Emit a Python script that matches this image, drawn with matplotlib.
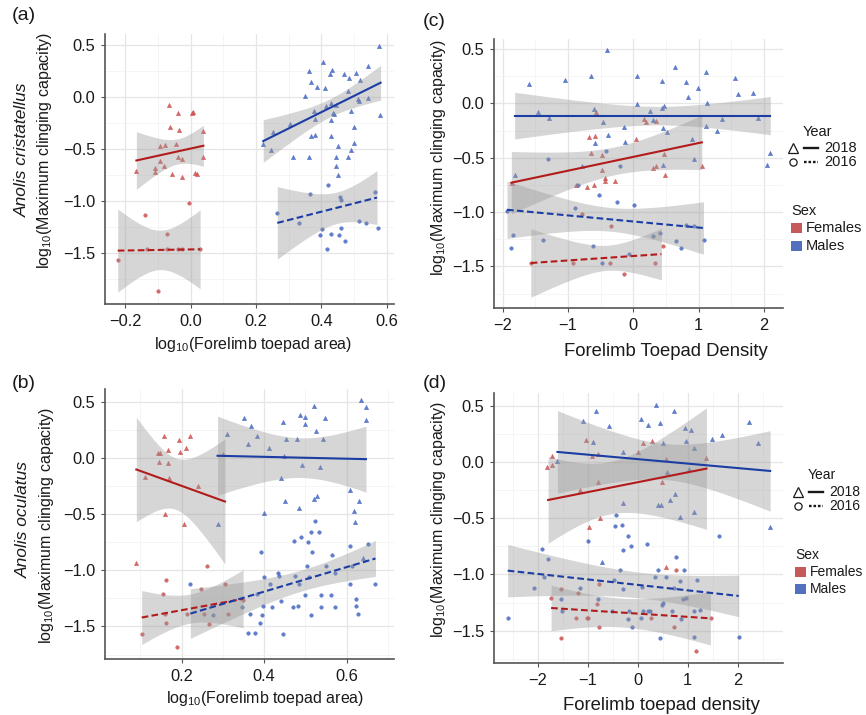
import numpy as np
import matplotlib
matplotlib.use('Agg')
import matplotlib.pyplot as plt
from matplotlib.lines import Line2D
from matplotlib.patches import Rectangle

plt.rcParams['font.family'] = ['Liberation Sans', 'DejaVu Sans']
plt.rcParams['mathtext.fontset'] = 'custom'
plt.rcParams['mathtext.rm'] = 'Liberation Sans'
plt.rcParams['mathtext.it'] = 'Liberation Sans:italic'
plt.rcParams['mathtext.default'] = 'regular'

# ---------------- data ----------------
# (a) Anolis cristatellus, toepad area
a_f18_x = [-0.065, 0.005, 0.008, -0.039, -0.062, -0.035, 0.039, -0.094, -0.077, -0.044, -0.038,
           -0.028, -0.094, -0.081, -0.108, -0.110, -0.166, -0.056, -0.026, 0.014, 0.020, 0.039]
a_f18_y = [-0.07, -0.15, -0.14, -0.15, -0.29, -0.31, -0.32, -0.47, -0.46, -0.45, -0.57,
           -0.59, -0.61, -0.66, -0.68, -0.72, -0.71, -0.74, -0.77, -0.73, -0.74, -0.57]
a_f16_x = [-0.004, -0.141, -0.073, -0.223, -0.100, -0.134, -0.072, -0.039, -0.026, 0.028]
a_f16_y = [-1.02, -1.13, -1.32, -1.57, -1.86, -1.465, -1.465, -1.465, -1.465, -1.465]
a_m18_x = [0.576, 0.404, 0.362, 0.433, 0.426, 0.470, 0.484, 0.505, 0.543, 0.519,
           0.367, 0.385, 0.410, 0.350, 0.480, 0.511, 0.516, 0.542, 0.415, 0.430,
           0.445, 0.434, 0.439, 0.491, 0.578, 0.376, 0.380, 0.428, 0.303, 0.367,
           0.381, 0.428, 0.500, 0.221, 0.252, 0.247, 0.313, 0.361, 0.452, 0.501,
           0.491, 0.445, 0.482, 0.445, 0.450]
a_m18_y = [0.49, 0.34, 0.25, 0.26, 0.22, 0.22, 0.19, 0.23, 0.30, 0.17,
           0.15, 0.10, 0.09, 0.01, 0.06, -0.02, -0.04, -0.01, -0.08, -0.05,
           -0.07, -0.15, -0.16, -0.13, -0.17, -0.135, -0.21, -0.22, -0.26, -0.37,
           -0.36, -0.37, -0.29, -0.45, -0.33, -0.51, -0.57, -0.57, -0.47, -0.44,
           -0.51, -0.57, -0.57, -0.66, -0.75]
a_m16_x = [0.420, 0.366, 0.456, 0.459, 0.565, 0.264, 0.331, 0.515, 0.535, 0.574,
           0.403, 0.459, 0.395, 0.429, 0.453, 0.471, 0.416]
a_m16_y = [-0.84, -0.93, -0.955, -0.99, -0.91, -1.115, -1.21, -1.19, -1.21, -1.26,
           -1.27, -1.26, -1.33, -1.32, -1.33, -1.385, -1.465]

# (b) Anolis oculatus, toepad area
b_f18_x = [0.156, 0.194, 0.219, 0.210, 0.195, 0.166, 0.143, 0.147, 0.144, 0.168, 0.170,
           0.112, 0.240, 0.159, 0.205, 0.090, 0.300]
b_f18_y = [0.19, 0.16, 0.19, 0.086, 0.053, 0.068, 0.039, 0.047, -0.033, -0.047, -0.18,
           -0.17, -0.25, -0.50, -0.585, -0.935, 0.03]
b_f16_x = [0.261, 0.163, 0.154, 0.248, 0.304, 0.104, 0.188, 0.163, 0.160, 0.267, 0.212,
           0.255, 0.313, 0.349]
b_f16_y = [-0.967, -1.083, -1.21, -1.17, -1.127, -1.57, -1.68, -1.47, -1.39, -1.475, -1.39,
           -1.39, -1.39, -1.265]
b_m18_x = [0.635, 0.646, 0.646, 0.522, 0.486, 0.499, 0.500, 0.547, 0.445, 0.351,
           0.369, 0.383, 0.361, 0.310, 0.411, 0.454, 0.479, 0.527, 0.542, 0.448,
           0.493, 0.536, 0.441, 0.450, 0.520, 0.529, 0.484, 0.399, 0.287, 0.608,
           0.629, 0.618, 0.621, 0.640]
b_m18_y = [0.51, 0.455, 0.335, 0.457, 0.38, 0.365, 0.30, 0.35, 0.318, 0.35,
           0.285, 0.19, 0.12, 0.208, 0.084, 0.17, 0.17, 0.24, 0.17, 0.015,
           -0.065, -0.086, -0.178, -0.38, -0.365, -0.338, -0.448, -0.49, -0.585, -0.29,
           -0.38, -0.477, -0.575, -0.89]
b_m16_x = [0.393, 0.523, 0.513, 0.533, 0.490, 0.473, 0.506, 0.517, 0.608, 0.565,
           0.652, 0.669, 0.609, 0.612, 0.551, 0.572, 0.503, 0.509, 0.476, 0.484,
           0.433, 0.435, 0.414, 0.400, 0.383, 0.397, 0.419, 0.440, 0.469, 0.483,
           0.500, 0.537, 0.561, 0.538, 0.573, 0.624, 0.623, 0.627, 0.514, 0.365,
           0.396, 0.389, 0.361, 0.378, 0.446, 0.221, 0.347, 0.277]
b_m16_y = [-0.842, -0.564, -0.662, -0.662, -0.703, -0.736, -0.751, -0.842, -0.786, -0.866,
           -0.77, -1.125, -1.127, -0.965, -0.965, -1.024, -0.965, -1.06, -1.053, -1.125,
           -1.024, -1.053, -1.125, -1.06, -1.21, -1.32, -1.33, -1.27, -1.33, -1.32,
           -1.217, -1.217, -1.217, -1.33, -1.33, -1.26, -1.32, -1.39, -1.40, -1.39,
           -1.40, -1.47, -1.555, -1.555, -1.57, -1.122, -1.323, -1.40]

# (c) Anolis cristatellus, toepad density
c_f18_x = [-1.862, -0.678, -0.582, -0.571, -0.643, -0.475, -0.479, -0.438, -0.429, -0.276, -0.602,
           -0.709, -0.882, 0.041, 0.169, 0.190, 0.343, 0.465, 0.302, 0.343, 0.486, 1.047]
c_f18_y = [-0.73, -0.313, -0.301, -0.077, -0.457, -0.473, -0.611, -0.684, -0.712, -0.712, -0.749,
           -0.767, -0.749, -0.325, -0.148, -0.169, -0.163, -0.464, -0.598, -0.574, -0.656, -0.574]
c_f16_x = [-0.786, -0.342, 0.455, 0.337, -1.562, -0.919, -0.357, -0.138]
c_f16_y = [-1.021, -1.126, -1.316, -1.472, -1.469, -1.469, -1.469, -1.567]
c_m18_x = [-0.398, -1.59, -1.046, -0.643, 0.05, 0.44, 0.634, 0.807, 0.995, 1.108,
           1.562, 1.599, 1.828, 0.833, 0.05, 1.133, 0.465, 0.434, 0.26, -0.607,
           -1.455, -1.286, -0.459, -0.138, 0.306, -0.392, -0.591, -0.127, 0.45, 0.516,
           1.108, 1.28, 1.358, 1.915, 0.894, 0.925, 0.45, -0.79, 2.093, 2.052, -1.816]
c_m18_y = [0.488, 0.18, 0.217, 0.248, 0.248, 0.21, 0.331, 0.193, 0.144, 0.29,
           0.233, 0.089, 0.098, 0.058, -0.009, 0.006, -0.022, -0.04, -0.068, -0.052,
           -0.083, -0.138, -0.169, -0.215, -0.157, -0.295, -0.362, -0.359, -0.23, -0.261,
           -0.209, -0.255, -0.144, -0.138, -0.331, -0.512, -0.57, -0.574, -0.457, -0.57, -0.663]
c_m16_x = [-1.301, -0.418, -0.204, -0.525, -0.245, 0.006, -0.893, -0.842, -1.93, -1.847,
           -1.868, -1.378, -0.612, -0.484, -0.061, 0.297, 0.414, 0.649, 0.735, 0.807, 0.93, 1.078]
c_m16_y = [-0.515, -0.44, -0.574, -0.844, -0.911, -0.936, -0.96, -0.755, -0.988, -1.215,
           -1.328, -1.258, -1.316, -1.469, -1.386, -1.218, -1.196, -1.27, -1.328, -1.123, -1.13, -1.26]

# (d) Anolis oculatus, toepad density
d_f18_x = [-1.708, -1.808, -1.708, -1.04, -0.92, -0.788, -0.788, -1.15, -0.746, -0.974,
           0.012, 0.294, 0.568, 1.374, 0.488, 0.1, 0.574]
d_f18_y = [0.05, -0.047, -0.03, 0.193, 0.05, 0.068, -0.18, -0.249, -0.498, -0.58,
           0.092, 0.19, 0.027, 0.038, -0.175, 0.166, -0.933]
d_f16_x = [-1.74, -1.532, -1.2, -0.766, -0.82, -1.24, -1.012, -0.992, -0.766, -1.526,
           0.768, 0.274, 0.728, 1.474, 1.16]
d_f16_y = [-1.209, -1.126, -1.167, -1.082, -1.26, -1.39, -1.387, -1.387, -1.47, -1.567,
           -0.963, -1.39, -1.47, -1.39, -1.677]
d_m18_x = [-0.828, -1.088, -0.574, -0.888, -0.288, -1.62, -0.288, -0.72, 0.06, 0.374,
           0.72, 0.208, 0.454, 0.948, 1.074, 2.228, 1.488, 1.694, 2.414, 0.968,
           0.508, 1.128, 1.02, 0.58, 0.74, 0.654, 0.408, 0.46, 0.848, 1.12, 2.654]
d_m18_y = [0.456, 0.367, 0.32, 0.175, 0.086, 0.012, -0.364, -0.886, 0.38, 0.507,
           0.456, 0.332, 0.347, 0.30, 0.287, 0.353, 0.207, 0.24, 0.169, 0.19,
           0.172, 0.121, -0.065, -0.086, -0.287, -0.338, -0.379, -0.379, -0.492, -0.447, -0.58]
d_m16_x = [-0.428, -0.318, -0.458, -0.198, -0.288, -0.128, -0.988, -0.348, -1.908, -1.796,
           -1.88, -2.066, -1.16, -1.526, -1.512, -0.786, -0.48, -0.3, -0.18, -0.2,
           -0.106, -2.6, -0.506, 1.634, 0.194, 0.774, 0.928, 0.408, 0.354, 0.574,
           0.848, 1.18, 0.088, 0.728, 0.974, 0.908, 0.514, 0.494, 1.128, 1.24,
           0.68, 0.86, 0.208, 0.24, 0.074, 0.1, 0.448, 1.128, 2.02]
d_m16_y = [-0.474, -0.56, -0.572, -0.658, -0.782, -0.747, -0.699, -0.963, -0.771, -0.862,
           -1.022, -1.12, -1.12, -1.215, -1.322, -1.215, -1.052, -1.126, -1.322, -1.398,
           -1.47, -1.39, -1.324, -0.658, -0.732, -0.842, -0.963, -0.96, -1.022, -1.022,
           -1.058, -1.052, -1.111, -1.12, -1.206, -1.215, -1.256, -1.268, -1.324, -1.318,
           -1.324, -1.396, -1.324, -1.324, -1.387, -1.322, -1.567, -1.553, -1.553]

# fitted lm lines:
# [x start, x end, y start, y end, CI half width at start, middle, end]
fit_a_f18 = [-0.166, 0.039, -0.608, -0.466, 0.278, 0.13, 0.198]
fit_a_f16 = [-0.223, 0.029, -1.476, -1.463, 0.40, 0.19, 0.38]
fit_a_m18 = [0.222, 0.581, -0.421, 0.141, 0.206, 0.09, 0.168]
fit_a_m16 = [0.265, 0.570, -1.209, -0.965, 0.35, 0.16, 0.26]
fit_b_f18 = [0.090, 0.305, -0.104, -0.389, 0.465, 0.234, 0.557]
fit_b_f16 = [0.103, 0.349, -1.421, -1.255, 0.24, 0.13, 0.258]
fit_b_m18 = [0.287, 0.647, 0.018, -0.012, 0.352, 0.18, 0.294]
fit_b_m16 = [0.221, 0.670, -1.386, -0.896, 0.221, 0.10, 0.16]
fit_c_f18 = [-1.867, 1.049, -0.730, -0.359, 0.287, 0.13, 0.25]
fit_c_f16 = [-1.570, 0.430, -1.469, -1.387, 0.315, 0.123, 0.238]
fit_c_m18 = [-1.816, 2.097, -0.113, -0.113, 0.215, 0.088, 0.176]
fit_c_m16 = [-1.934, 1.074, -0.979, -1.147, 0.264, 0.11, 0.241]
fit_d_f18 = [-1.792, 1.375, -0.338, -0.059, 0.385, 0.25, 0.54]
fit_d_f16 = [-1.732, 1.455, -1.298, -1.390, 0.203, 0.13, 0.237]
fit_d_m18 = [-1.605, 2.649, 0.089, -0.080, 0.367, 0.16, 0.358]
fit_d_m16 = [-2.600, 2.020, -0.966, -1.191, 0.233, 0.118, 0.185]

y_ticks = [-1.5, -1.0, -0.5, 0.0, 0.5]
x_ticks_a = [-0.2, 0.0, 0.2, 0.4, 0.6]
x_ticks_b = [0.2, 0.4, 0.6]
x_ticks_cd = [-2, -1, 0, 1, 2]

# ---------------- styling ----------------
W, H = 866, 715
red_pt, blue_pt = '#cc4f4f', '#4466c2'
red_ln, blue_ln = '#b31b1b', '#1c3da3'
red_key, blue_key = '#c55a58', '#5270be'
txt = '#1a1a1a'

fig = plt.figure(figsize=(W / 100, H / 100), dpi=100)
fig.patch.set_facecolor('white')


def px_axes(l, t, r, b):
    return fig.add_axes([l / W, 1 - b / H, (r - l) / W, (b - t) / H])


def style(ax, xlim, ylim, xt, xminor):
    ax.set_xlim(*xlim)
    ax.set_ylim(*ylim)
    ax.set_xticks(xt)
    ax.set_yticks(y_ticks)
    ax.set_xticks(xminor, minor=True)
    ax.set_yticks([-1.75, -1.25, -0.75, -0.25, 0.25], minor=True)
    for s in ['top', 'right']:
        ax.spines[s].set_visible(False)
    for s in ['left', 'bottom']:
        ax.spines[s].set_color('#555555')
        ax.spines[s].set_linewidth(1.2)
    ax.tick_params(which='major', direction='out', length=3, width=0.8, color='#555555',
                   labelsize=11.8, labelcolor=txt, pad=4)
    ax.tick_params(which='minor', length=0)
    ax.grid(True, which='major', color='#e6e6e6', lw=0.9)
    ax.grid(True, which='minor', color='#f1f1f1', lw=0.5)
    ax.set_axisbelow(True)


def group(ax, x, y, marker, pcol, lcol, fit, dashed):
    ms = 3.2 if marker == '^' else 2.6
    ax.plot(x, y, ls='none', marker=marker, ms=ms, mfc=pcol, mec=pcol, mew=0.3,
            alpha=0.85, zorder=2)
    x0, x1, y0, y1, hl, hm, hr = fit
    xs = np.linspace(x0, x1, 80)
    line = y0 + (y1 - y0) * (xs - x0) / (x1 - x0)
    q = np.polyfit([x0, (x0 + x1) / 2, x1], [hl ** 2, hm ** 2, hr ** 2], 2)
    hw = np.sqrt(np.clip(np.polyval(q, xs), 1e-6, None))
    ax.fill_between(xs, line - hw, line + hw, color='#999999', alpha=0.4, lw=0, zorder=3)
    if dashed:
        ax.plot(xs, line, color=lcol, lw=1.5, dashes=(3.2, 1.6), zorder=4)
    else:
        ax.plot(xs, line, color=lcol, lw=1.5, zorder=4)


def panel(ax, f18, f16, m18, m16, fits):
    group(ax, f18[0], f18[1], '^', red_pt, red_ln, fits[0], False)
    group(ax, f16[0], f16[1], 'o', red_pt, red_ln, fits[1], True)
    group(ax, m18[0], m18[1], '^', blue_pt, blue_ln, fits[2], False)
    group(ax, m16[0], m16[1], 'o', blue_pt, blue_ln, fits[3], True)


ax_a = px_axes(105, 34, 394, 304)
style(ax_a, (-0.262, 0.622), (-1.99, 0.61), x_ticks_a, [-0.1, 0.1, 0.3, 0.5])
panel(ax_a, (a_f18_x, a_f18_y), (a_f16_x, a_f16_y), (a_m18_x, a_m18_y), (a_m16_x, a_m16_y),
      [fit_a_f18, fit_a_f16, fit_a_m18, fit_a_m16])

ax_b = px_axes(105, 389, 394, 659)
style(ax_b, (0.014, 0.715), (-1.79, 0.612), x_ticks_b, [0.1, 0.3, 0.5, 0.7])
panel(ax_b, (b_f18_x, b_f18_y), (b_f16_x, b_f16_y), (b_m18_x, b_m18_y), (b_m16_x, b_m16_y),
      [fit_b_f18, fit_b_f16, fit_b_m18, fit_b_m16])

ax_c = px_axes(494, 39, 783, 308)
style(ax_c, (-2.133, 2.292), (-1.883, 0.592), x_ticks_cd, [-1.5, -0.5, 0.5, 1.5])
panel(ax_c, (c_f18_x, c_f18_y), (c_f16_x, c_f16_y), (c_m18_x, c_m18_y), (c_m16_x, c_m16_y),
      [fit_c_f18, fit_c_f16, fit_c_m18, fit_c_m16])

ax_d = px_axes(494, 393, 783, 663)
style(ax_d, (-2.874, 2.906), (-1.787, 0.613), x_ticks_cd, [-2.5, -1.5, -0.5, 0.5, 1.5, 2.5])
panel(ax_d, (d_f18_x, d_f18_y), (d_f16_x, d_f16_y), (d_m18_x, d_m18_y), (d_m16_x, d_m16_y),
      [fit_d_f18, fit_d_f16, fit_d_m18, fit_d_m16])


# ---------------- labels ----------------
def ftext(x, y, s, **kw):
    fig.text(x / W, 1 - y / H, s, color=txt, **kw)


ftext(12, 16, '(a)', fontsize=14, ha='left', va='center')
ftext(12, 384, '(b)', fontsize=14, ha='left', va='center')
ftext(423, 21, '(c)', fontsize=14, ha='left', va='center')
ftext(423, 384, '(d)', fontsize=14, ha='left', va='center')

area_lab = r'log$_{10}$(Forelimb toepad area)'
cling_lab = r'log$_{10}$(Maximum clinging capacity)'
ftext(253, 344, area_lab, fontsize=11.5, ha='center', va='center')
ftext(265, 698, area_lab, fontsize=11.5, ha='center', va='center')
ftext(666, 351, 'Forelimb Toepad Density', fontsize=13.3, ha='center', va='center')
ftext(661, 706, 'Forelimb toepad density', fontsize=13.3, ha='center', va='center')

ftext(45, 150, cling_lab, fontsize=11.5, ha='center', va='center', rotation=90)
ftext(22, 150, 'Anolis cristatellus', fontsize=12.5, style='italic', ha='center',
      va='center', rotation=90)
ftext(47, 525, cling_lab, fontsize=11.5, ha='center', va='center', rotation=90)
ftext(23, 520, 'Anolis oculatus', fontsize=12.5, style='italic', ha='center',
      va='center', rotation=90)
ftext(439, 157, cling_lab, fontsize=11.5, ha='center', va='center', rotation=90)
ftext(439, 519, cling_lab, fontsize=11.5, ha='center', va='center', rotation=90)


# ---------------- legends ----------------
def legend(x0, y_year, y18, y16, y_sex, y_fem, y_mal, sq_x, fs):
    ftext(x0 + 10, y_year, 'Year', fontsize=fs, ha='left', va='center')
    for yy, mk, lab, dash in [(y18, '^', '2018', None), (y16, 'o', '2016', (1.1, 0.8))]:
        fy = 1 - yy / H
        fig.add_artist(Line2D([x0 / W], [fy], marker=mk, ms=6.5 if mk == '^' else 5.2,
                              mfc='none', mec=txt, mew=0.9, ls='none'))
        ln = Line2D([(x0 + 11.5) / W, (x0 + 25) / W], [fy, fy], color=txt, lw=1.7)
        if dash:
            ln.set_dashes(dash)
        fig.add_artist(ln)
        ftext(x0 + 31.5, yy, lab, fontsize=fs, ha='left', va='center')
    ftext(sq_x, y_sex, 'Sex', fontsize=fs, ha='left', va='center')
    for yy, col, lab in [(y_fem, red_key, 'Females'), (y_mal, blue_key, 'Males')]:
        fig.add_artist(Rectangle((sq_x / W, 1 - (yy + 5.3) / H), 10.7 / W, 10.7 / H,
                                 color=col, lw=0))
        ftext(sq_x + 14.5, yy, lab, fontsize=fs, ha='left', va='center')


legend(792.7, 131.7, 147.7, 162.3, 211, 228, 246, 791, 10.5)
legend(797.7, 475, 491.7, 505.7, 555, 572, 589, 795, 10)

fig.savefig('out.png', dpi=100, facecolor='white')
